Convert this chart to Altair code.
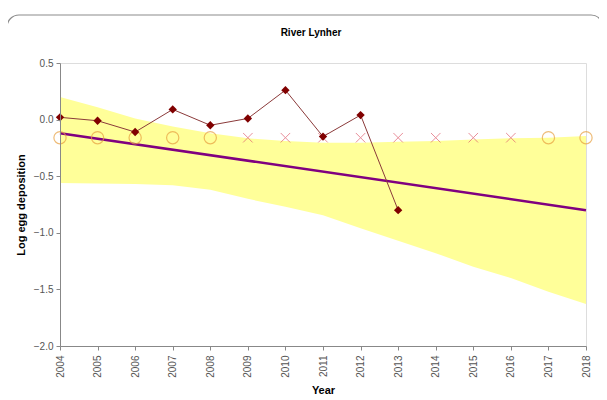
import altair as alt
import pandas as pd

# Observed log egg deposition
obs_years = [2004, 2005, 2006, 2007, 2008, 2009, 2010, 2011, 2012, 2013]
obs_values = [0.02, -0.01, -0.11, 0.09, -0.05, 0.01, 0.26, -0.15, 0.04, -0.80]

# Trend line end points
trend_years = [2004, 2018]
trend_values = [-0.12, -0.80]

# Confidence band
band_years = list(range(2004, 2019))
band_upper = [0.20, 0.11, 0.01, -0.06, -0.12, -0.165, -0.19, -0.205, -0.205, -0.195,
              -0.19, -0.175, -0.165, -0.16, -0.145]
band_lower = [-0.56, -0.565, -0.57, -0.58, -0.62, -0.70, -0.77, -0.845, -0.96, -1.07,
              -1.18, -1.30, -1.40, -1.52, -1.63]

# Status markers row
status_years = list(range(2004, 2019))
status_kind = ["circle"] * 5 + ["cross"] * 8 + ["circle"] * 2
status_level = -0.16

x_ticks = list(range(2004, 2019))
y_ticks = [-2.0, -1.5, -1.0, -0.5, 0.0, 0.5]
chart_title = "River Lynher"

obs = pd.DataFrame({"Year": obs_years, "Value": obs_values})
trend = pd.DataFrame({"Year": trend_years, "Value": trend_values})
band = pd.DataFrame({"Year": band_years, "Upper": band_upper, "Lower": band_lower})
status = pd.DataFrame({"Year": status_years, "Kind": status_kind,
                       "Value": [status_level] * len(status_years)})

xscale = alt.Scale(domain=[2004, 2018], nice=False, zero=False)
yscale = alt.Scale(domain=[-2.0, 0.5], nice=False, zero=False)

xaxis = alt.Axis(title="Year", values=x_ticks, format="d",
                 labelAngle=270, labelAlign="right", labelBaseline="middle",
                 labelOverlap=False,
                 grid=False, labelColor="#555555", labelFontSize=10,
                 labelFont="Liberation Sans", titleFont="Liberation Sans",
                 titleFontSize=11, titleFontWeight="bold", titleColor="#000000",
                 domainColor="#888888", tickColor="#888888", tickSize=4,
                 labelPadding=5, titlePadding=7, zindex=1)
yaxis = alt.Axis(title="Log egg deposition", values=y_ticks,
                 format=".1f", grid=False, labelColor="#555555", labelFontSize=10,
                 labelOverlap=False,
                 labelFont="Liberation Sans", titleFont="Liberation Sans",
                 titleFontSize=11, titleFontWeight="bold", titleColor="#000000",
                 domainColor="#888888", tickColor="#888888", tickSize=4,
                 labelPadding=3, titlePadding=7, zindex=1)

X = alt.X("Year:Q", scale=xscale, axis=xaxis)
Yv = alt.Y("Value:Q", scale=yscale, axis=yaxis)

frame = alt.Chart(pd.DataFrame({"a": [0]})).mark_rect(
    fillOpacity=0, stroke="#8c8c8c", strokeWidth=1.2, cornerRadius=12, clip=False
).encode(x=alt.value(-53), x2=alt.value(543), y=alt.value(-48), y2=alt.value(360))

title_mark = alt.Chart(pd.DataFrame({"t": [chart_title]})).mark_text(
    font="Liberation Sans", fontSize=10, fontWeight="bold", color="#000000",
    align="center", baseline="middle"
).encode(text="t:N", x=alt.value(251), y=alt.value(-30))

area = alt.Chart(band).mark_area(color="#FFFF99", opacity=1).encode(
    x=X,
    y=alt.Y("Upper:Q", scale=yscale, axis=yaxis),
    y2="Lower:Q",
)

trend_line = alt.Chart(trend).mark_line(color="#800080", strokeWidth=2.5).encode(x=X, y=Yv)

circles = alt.Chart(status).transform_filter(alt.datum.Kind == "circle").mark_point(
    shape="circle", filled=False, color="#E8A040", size=150, strokeWidth=1.2
).encode(x=X, y=Yv)

crosses = alt.Chart(status).transform_filter(alt.datum.Kind == "cross").mark_point(
    shape="M-1,-1L1,1M-1,1L1,-1", filled=False, color="#E06070", size=90, strokeWidth=1
).encode(x=X, y=Yv)

obs_line = alt.Chart(obs).mark_line(color="#8B3A3A", strokeWidth=1).encode(x=X, y=Yv)

obs_pts = alt.Chart(obs).mark_point(
    shape="diamond", filled=True, color="#800000", size=70, opacity=1
).encode(x=X, y=Yv)

chart = alt.layer(frame, title_mark, area, trend_line, circles, crosses, obs_line, obs_pts).properties(
    width=526, height=283,
    autosize=alt.AutoSizeParams(type="none"),
    padding={"left": 52, "top": 55, "right": 13, "bottom": 56},
).configure_view(stroke=None).configure(background="white")

chart.save("out.html", embed_options={"renderer": "svg", "actions": False})
